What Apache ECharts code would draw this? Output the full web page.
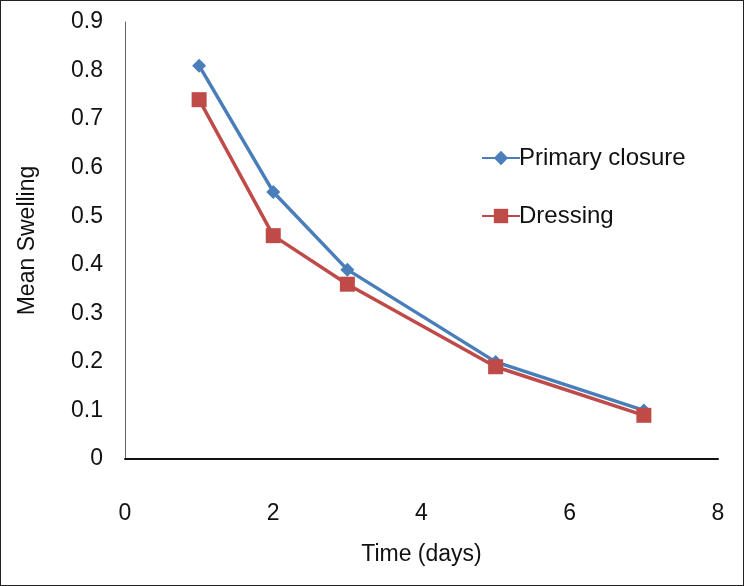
<!DOCTYPE html>
<html>
<head>
<meta charset="utf-8">
<script src="https://cdn.jsdelivr.net/npm/echarts@6/dist/echarts.min.js"></script>
<style>
	html, body { margin: 0; padding: 0; background: #fff; }
	#main { width: 742px; height: 584px; border: 1px solid #222; }
</style>
</head>
<body>
<div id="main"></div>
<script>
var days = [1, 2, 3, 5, 7];
var primaryClosure = [0.81, 0.55, 0.39, 0.20, 0.10];
var dressing = [0.74, 0.46, 0.36, 0.19, 0.09];

function pairs(xs, ys) {
	var out = [];
	for (var i = 0; i < xs.length; i++) {
		out.push([xs[i], ys[i]]);
	}
	return out;
}

var myChart = echarts.init(document.getElementById('main'));
var font = 'Liberation Sans';
var option = {
	animation: false,
	textStyle: { fontFamily: font },
	grid: { left: 124, right: 25, top: 21, bottom: 126 },
	legend: {
		orient: 'vertical',
		left: 475,
		top: 140,
		itemGap: 34,
		itemWidth: 38,
		itemHeight: 18,
		textStyle: { fontSize: 24, color: '#111', fontFamily: font, padding: [0, 0, 0, -6] },
		data: ['Primary closure', 'Dressing']
	},
	xAxis: {
		type: 'value',
		min: 0,
		max: 8,
		interval: 2,
		name: 'Time (days)',
		nameLocation: 'middle',
		nameGap: 84,
		nameTextStyle: { fontSize: 23, color: '#111' },
		axisLine: { lineStyle: { color: '#111', width: 2 } },
		axisTick: { show: false },
		splitLine: { show: false },
		axisLabel: { fontSize: 23, color: '#111', margin: 43 }
	},
	yAxis: {
		type: 'value',
		min: 0,
		max: 0.9,
		interval: 0.1,
		name: 'Mean Swelling',
		nameLocation: 'middle',
		nameGap: 86,
		nameTextStyle: { fontSize: 23, color: '#111' },
		axisLine: { show: true, lineStyle: { color: '#666', width: 1 } },
		axisTick: { show: false },
		splitLine: { show: false },
		axisLabel: { fontSize: 23, color: '#111', margin: 22 }
	},
	series: [{
		name: 'Primary closure',
		type: 'line',
		data: pairs(days, primaryClosure),
		symbol: 'diamond',
		symbolSize: 14,
		itemStyle: { color: '#4a7ebb' },
		lineStyle: { color: '#4a7ebb', width: 3.5 }
	}, {
		name: 'Dressing',
		type: 'line',
		data: pairs(days, dressing),
		symbol: 'rect',
		symbolSize: 15,
		itemStyle: { color: '#be4b48' },
		lineStyle: { color: '#be4b48', width: 3.5 }
	}]
};
myChart.setOption(option, true);
</script>
</body>
</html>
